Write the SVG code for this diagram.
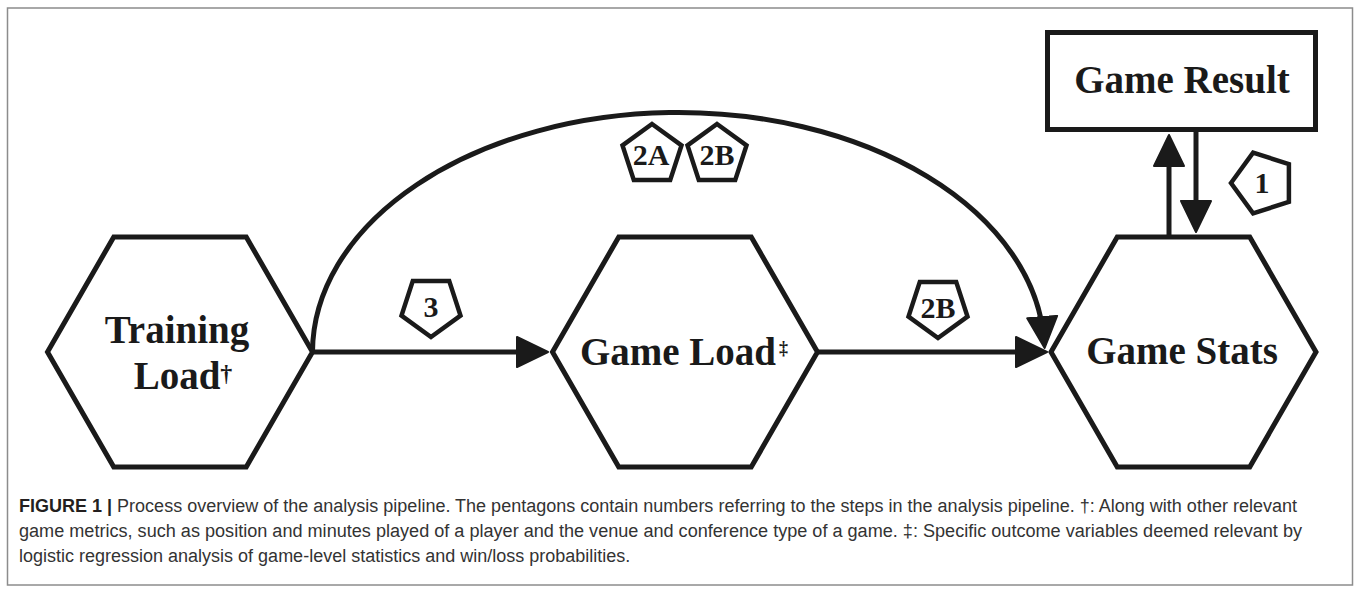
<svg xmlns="http://www.w3.org/2000/svg" width="1358" height="592" viewBox="0 0 1358 592">
  <style>
    .frame { fill: #ffffff; stroke: #8c8c8c; stroke-width: 1.5; }
    .shape { fill: #ffffff; stroke: #1a1a1a; stroke-width: 5; stroke-linejoin: miter; }
    .pent { fill: #ffffff; stroke: #1a1a1a; stroke-width: 4.5; stroke-linejoin: miter; }
    .conn { fill: none; stroke: #1a1a1a; stroke-width: 5; }
    .big { font-family: "Liberation Serif", "Times New Roman", serif; font-weight: bold; font-size: 39px; fill: #1a1a1a; text-anchor: middle; }
    .num { font-family: "Liberation Serif", "Times New Roman", serif; font-weight: bold; font-size: 30px; fill: #1a1a1a; text-anchor: middle; }
    .cap { font-family: "Liberation Sans", Arial, sans-serif; font-size: 18px; fill: #333333; }
    .capb { font-weight: bold; fill: #231f20; }
  </style>
  <defs>
    <marker id="ah" markerUnits="userSpaceOnUse" markerWidth="36" markerHeight="36" viewBox="0 0 36 36" refX="24" refY="17" orient="auto">
      <path d="M1,2 L32,17 L1,32 Z" fill="#1a1a1a" stroke="#1a1a1a" stroke-width="2" stroke-linejoin="round"/>
    </marker>
  </defs>

  <rect class="frame" x="7.5" y="8" width="1345" height="577"/>

  <g id="training-load">
    <polygon class="shape" points="47.5,352 113.75,237 246.25,237 312.5,352 246.25,467 113.75,467"/>
    <text class="big" x="177" y="343">Training</text>
    <text class="big" x="183" y="389">Load<tspan font-size="24" dy="-8">†</tspan></text>
  </g>

  <g id="game-load">
    <polygon class="shape" points="552.5,352 618.75,237 751.25,237 817.5,352 751.25,467 618.75,467"/>
    <text class="big" x="684" y="365">Game Load<tspan font-size="18" dx="3" dy="-11">‡</tspan></text>
  </g>

  <g id="game-stats">
    <polygon class="shape" points="1051,352 1117.25,237 1249.75,237 1316,352 1249.75,467 1117.25,467"/>
    <text class="big" x="1182" y="364">Game Stats</text>
  </g>

  <g id="game-result">
    <rect class="shape" x="1047.5" y="32.5" width="268" height="97"/>
    <text class="big" x="1182" y="93">Game Result</text>
  </g>

  <g id="connectors">
    <line class="conn" x1="312.5" y1="352" x2="540" y2="352" marker-end="url(#ah)"/>
    <line class="conn" x1="817.5" y1="352" x2="1039" y2="352" marker-end="url(#ah)"/>
    <path class="conn" d="M312.5,352 A366,240 0 0 1 1044,340" marker-end="url(#ah)"/>
    <line class="conn" x1="1169" y1="237" x2="1169" y2="143" marker-end="url(#ah)"/>
    <line class="conn" x1="1196" y1="129.5" x2="1196" y2="224" marker-end="url(#ah)"/>
  </g>

  <g id="step-2A">
    <polygon class="pent" points="652,124 681.5,145.4 670.2,180.1 633.8,180.1 622.5,145.4"/>
    <text class="num" x="651" y="165">2A</text>
  </g>
  <g id="step-2B-top">
    <polygon class="pent" points="717,124 746.5,145.4 735.2,180.1 698.8,180.1 687.5,145.4"/>
    <text class="num" x="717" y="165">2B</text>
  </g>
  <g id="step-3">
    <polygon class="pent" points="431,337 460.5,315.6 449.2,280.9 412.8,280.9 401.5,315.6"/>
    <text class="num" x="431" y="317">3</text>
  </g>
  <g id="step-2B-mid">
    <polygon class="pent" points="938,338 967.5,316.6 956.2,281.9 919.8,281.9 908.5,316.6"/>
    <text class="num" x="938" y="318">2B</text>
  </g>
  <g id="step-1">
    <polygon class="pent" points="1231,183 1253.1,152.6 1288.9,164.2 1288.9,201.8 1253.1,213.4"/>
    <text class="num" x="1262" y="193">1</text>
  </g>

  <g id="caption">
    <text class="cap" x="19" y="512" textLength="1278" lengthAdjust="spacingAndGlyphs"><tspan class="capb">FIGURE 1 | </tspan>Process overview of the analysis pipeline. The pentagons contain numbers referring to the steps in the analysis pipeline. †: Along with other relevant</text>
    <text class="cap" x="19" y="537" textLength="1283" lengthAdjust="spacingAndGlyphs">game metrics, such as position and minutes played of a player and the venue and conference type of a game. ‡: Specific outcome variables deemed relevant by</text>
    <text class="cap" x="19" y="562">logistic regression analysis of game-level statistics and win/loss probabilities.</text>
  </g>
</svg>
